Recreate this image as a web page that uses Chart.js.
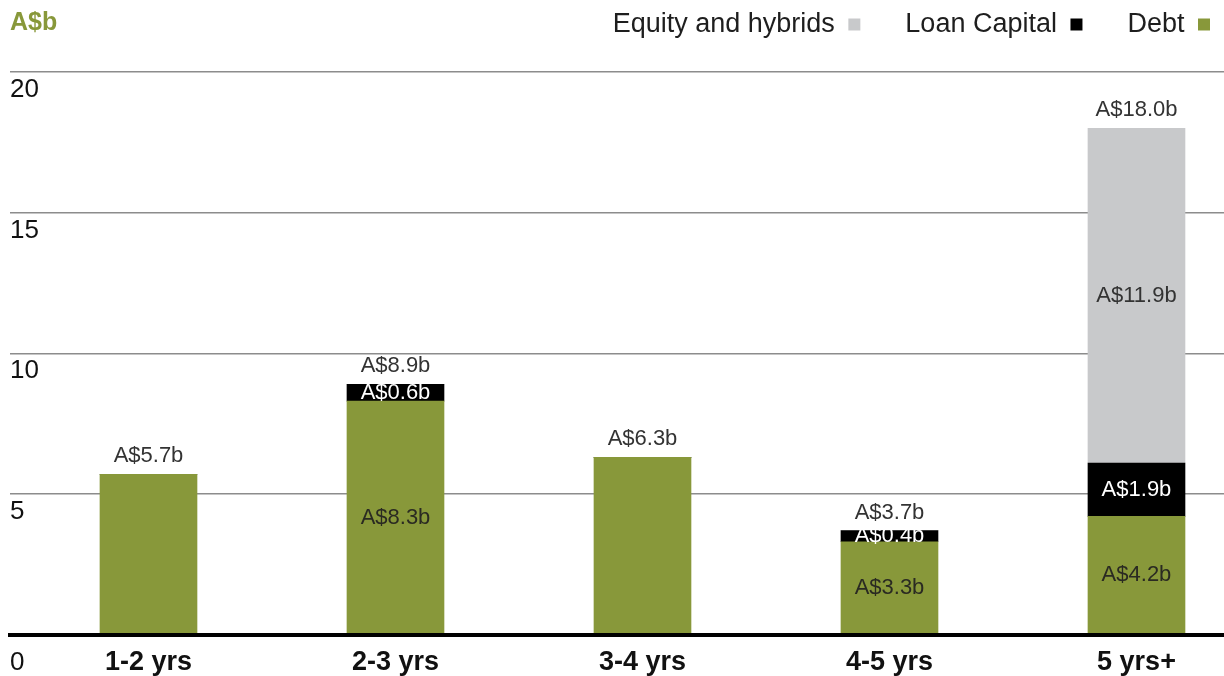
<!DOCTYPE html>
<html>
<head>
<meta charset="utf-8">
<script src="https://cdn.jsdelivr.net/npm/chart.js@4.4.1/dist/chart.umd.min.js"></script>
<style>
  html, body { margin: 0; padding: 0; background: #ffffff; }
  #wrap { width: 1224px; height: 676px; position: relative; }
</style>
</head>
<body>
<div id="wrap"><canvas id="c"></canvas></div>
<script>
const categories = ['1-2 yrs', '2-3 yrs', '3-4 yrs', '4-5 yrs', '5 yrs+'];
const debt = [5.7, 8.3, 6.3, 3.3, 4.2];
const loanCapital = [0, 0.6, 0, 0.4, 1.9];
const equityHybrids = [0, 0, 0, 0, 11.9];
const yTicks = [0, 5, 10, 15, 20];
const unitLabel = 'A$b';

const GREEN = '#88983a';
const BLACK = '#000000';
const GREY = '#c8c9cb';
const FONT = '"Liberation Sans", Arial, Helvetica, sans-serif';

const fmt = v => 'A$' + v.toFixed(1) + 'b';
const toPoints = arr => arr.map((v, i) => ({ x: i, y: v }));

const legendGap = {
  id: 'legendGap',
  beforeInit(chart) {
    const legend = chart.legend;
    const fit = legend.fit;
    legend.fit = function () { fit.call(this); this.height += 24; };
  }
};

const unitTitle = {
  id: 'unitTitle',
  afterDraw(chart) {
    const ctx = chart.ctx;
    ctx.save();
    ctx.font = 'bold 25px ' + FONT;
    ctx.fillStyle = GREEN;
    ctx.textAlign = 'left';
    ctx.textBaseline = 'middle';
    ctx.fillText(unitLabel, 10, 23);
    ctx.restore();
  }
};

const valueLabels = {
  id: 'valueLabels',
  afterDatasetsDraw(chart) {
    const ctx = chart.ctx;
    ctx.save();
    ctx.font = '22px ' + FONT;
    ctx.textAlign = 'center';
    ctx.textBaseline = 'middle';
    categories.forEach((c, i) => {
      const segs = [];
      chart.data.datasets.forEach((ds, d) => {
        const v = ds.data[i].y;
        if (v > 0) segs.push({ v, el: chart.getDatasetMeta(d).data[i], color: ds.labelColor });
      });
      if (!segs.length) return;
      if (segs.length > 1) {
        segs.forEach(s => {
          const p = s.el.getProps(['x', 'y', 'base'], true);
          ctx.fillStyle = s.color;
          ctx.fillText(fmt(s.v), p.x, (p.y + p.base) / 2);
        });
      }
      const total = segs.reduce((a, s) => a + s.v, 0);
      const top = Math.min(...segs.map(s => s.el.y));
      ctx.fillStyle = '#333333';
      ctx.fillText(fmt(total), segs[0].el.x, top - 18);
    });
    ctx.restore();
  }
};

new Chart(document.getElementById('c'), {
  type: 'bar',
  data: {
    datasets: [
      { label: 'Debt', data: toPoints(debt), backgroundColor: GREEN, labelColor: '#2a2a22' },
      { label: 'Loan Capital', data: toPoints(loanCapital), backgroundColor: BLACK, labelColor: '#ffffff' },
      { label: 'Equity and hybrids', data: toPoints(equityHybrids), backgroundColor: GREY, labelColor: '#333333' }
    ]
  },
  options: {
    responsive: true,
    maintainAspectRatio: false,
    animation: false,
    datasets: { bar: { barThickness: 97, borderWidth: 0 } },
    layout: { padding: { top: -34, right: -31, left: 10, bottom: -15 } },
    plugins: {
      tooltip: { enabled: false },
      legend: {
        position: 'top',
        align: 'start',
        rtl: true,
        labels: {
          boxWidth: 12,
          boxHeight: 12,
          padding: 45,
          color: '#1e1e1e',
          font: { family: FONT, size: 27 }
        }
      }
    },
    scales: {
      x: {
        type: 'linear',
        offset: false,
        min: -0.5607,
        max: 4.3543,
        stacked: true,
        afterBuildTicks: s => { s.ticks = categories.map((_, i) => ({ value: i })); },
        grid: { display: false, drawTicks: false },
        border: { display: true, color: '#000000', width: 4, z: 1 },
        ticks: {
          autoSkip: false,
          maxRotation: 0,
          padding: 12,
          color: '#111111',
          font: { family: FONT, size: 27, weight: 'bold' },
          callback: v => categories[v]
        }
      },
      y: {
        min: 0,
        max: 20,
        stacked: true,
        afterBuildTicks: s => { s.ticks = yTicks.map(v => ({ value: v })); },
        grid: { color: '#8c8c8c', lineWidth: 1.5, drawTicks: false },
        border: { display: false },
        ticks: {
          mirror: true,
          padding: 0,
          labelOffset: 18,
          color: '#111111',
          font: { family: FONT, size: 26, lineHeight: 0.8 },
          callback: v => (v === 0 ? ['', '0'] : String(v))
        }
      }
    }
  },
  plugins: [legendGap, unitTitle, valueLabels]
});
</script>
</body>
</html>
